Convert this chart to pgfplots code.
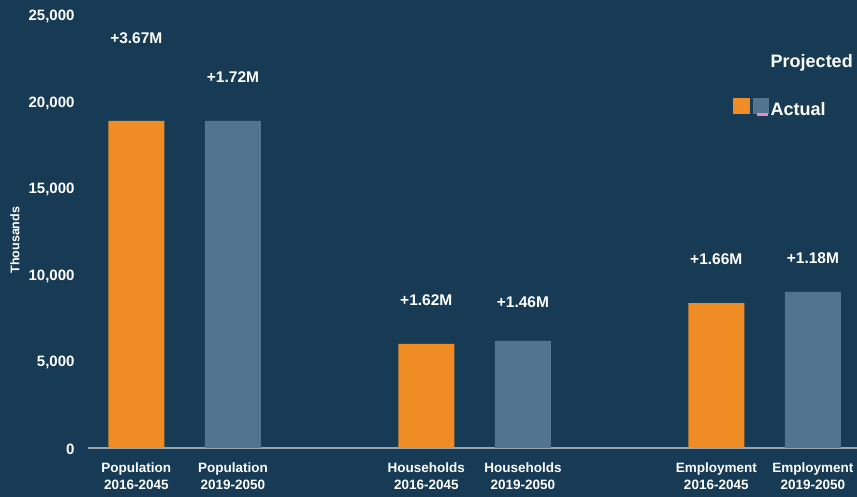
\documentclass[border=0pt]{standalone}
\usepackage{fontspec}
\setmainfont{Liberation Sans}
\usepackage{pgfplots}
\pgfplotsset{compat=1.18}
\definecolor{bgcol}{HTML}{173B55}
\definecolor{projorange}{HTML}{F08C24}
\definecolor{actgrey}{HTML}{52748E}
\definecolor{axisgray}{HTML}{9AA5AE}
\definecolor{pinkline}{HTML}{E58AC8}
\begin{document}
\begin{tikzpicture}[x=1pt,y=1pt]
\fill[bgcol] (0,0) rectangle (857,497);
\useasboundingbox (0,0) rectangle (857,497);
\begin{axis}[
    at={(88pt,49pt)}, anchor=south west,
    scale only axis, width=769pt, height=433pt,
    xmin=-0.5, xmax=7.456, ymin=0, ymax=25000,
    ybar, bar width=56pt,
    axis x line=bottom, axis y line=left,
    x axis line style={draw=axisgray, line width=1.2pt, -},
    y axis line style={draw=none},
    major tick length=0pt, tick style={draw=none},
    xtick={0,1,3,4,6,7},
    xticklabels={{Population\\2016-2045},{Population\\2019-2050},
                 {Households\\2016-2045},{Households\\2019-2050},
                 {Employment\\2016-2045},{Employment\\2019-2050}},
    xticklabel style={align=center, text=white,
        font=\bfseries\fontsize{13.5}{17}\selectfont, yshift=-11pt},
    ytick={0,5000,...,25000},
    yticklabel style={text=white, font=\bfseries\fontsize{15}{17}\selectfont,
        xshift=-10pt, yshift=-1.5pt},
    /pgf/number format/assume math mode=true,
    /pgf/number format/1000 sep={,},
    scaled y ticks=false,
    ylabel={Thousands},
    ylabel style={text=white, font=\bfseries\fontsize{12.5}{14}\selectfont,
        at={(axis description cs:-0.095,0.48)}, anchor=center},
    legend style={at={(0.835,0.918)}, anchor=north west, draw=none, fill=none,
        text=white, font=\bfseries\fontsize{18}{20}\selectfont,
        row sep=27pt},
    legend cell align=left,
]
% projected (orange)
\addplot[fill=projorange, draw=none, bar shift=0pt, forget plot] coordinates {
    (0,18880) (3,6005) (6,8370)
};
% actual (grey)
\addplot[fill=actgrey, draw=none, bar shift=0pt, forget plot] coordinates {
    (1,18880) (4,6180) (7,9010)
};
\addlegendimage{empty legend}
\addlegendentry{Projected}
\addlegendimage{legend image code/.code={
    \fill[projorange] (0pt,-3.5pt) rectangle (16pt,11.5pt);
    \fill[actgrey] (20pt,-3.5pt) rectangle (35pt,11.5pt);
    \fill[pinkline] (24pt,-3.5pt) rectangle (34pt,-5.5pt);
}}
\addlegendentry{Actual}
\begin{scope}[every node/.style={text=white, font=\bfseries\fontsize{15.5}{17}\selectfont}]
\node at (axis cs:0,23670) {+3.67M};
\node at (axis cs:1,21400) {+1.72M};
\node at (axis cs:3,8550) {+1.62M};
\node at (axis cs:4,8430) {+1.46M};
\node at (axis cs:6,10900) {+1.66M};
\node at (axis cs:7,10970) {+1.18M};
\end{scope}
\end{axis}
\end{tikzpicture}
\end{document}
